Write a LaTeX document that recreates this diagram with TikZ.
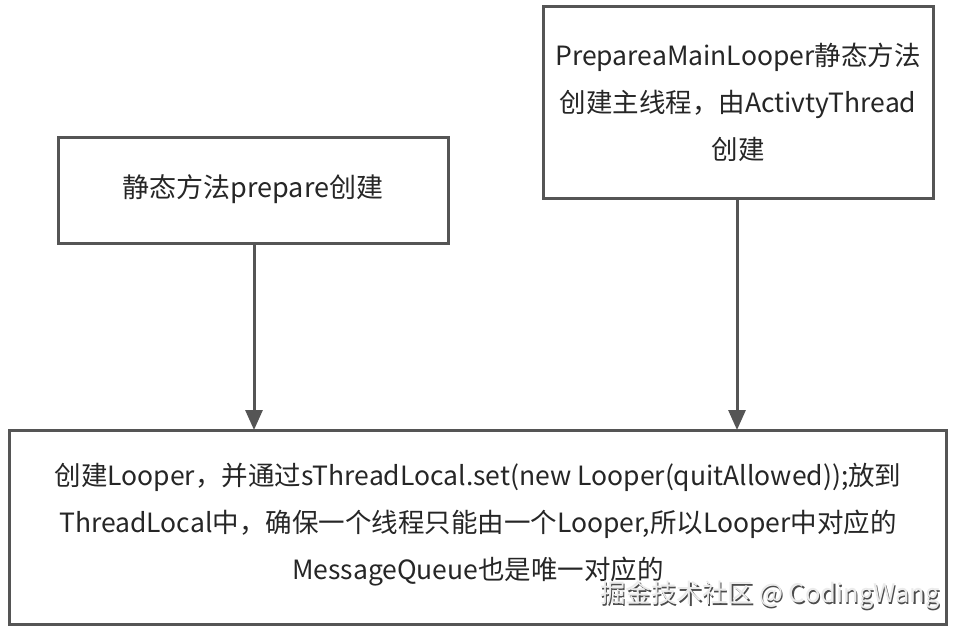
\documentclass[tikz,border=0pt]{standalone}
\usepackage{fontspec}
\setmainfont{Noto Sans CJK SC}
\usetikzlibrary{arrows.meta}
\definecolor{edge}{HTML}{555555}
\definecolor{txt}{HTML}{262626}
\tikzset{
  box/.style={draw=edge, line width=3pt, fill=white, inner sep=0pt},
  lbl/.style={text=txt, align=center, font=\fontsize{26.5}{47}\selectfont},
  conn/.style={draw=edge, line width=3pt, -{Triangle[length=20pt,width=17pt]}},
}
\begin{document}
\begin{tikzpicture}[x=1pt,y=-1pt]
\useasboundingbox (0,0) rectangle (958,630);
\fill[white] (0,0) rectangle (958,630);
\draw[box] (58,137) rectangle (448,243);
\node[lbl, font=\fontsize{27}{47}\selectfont] (lt) at (253,189) {静态方法prepare创建};
\coordinate (lb) at (254,243);
\draw[box] (543,6) rectangle (933,198);
\node[lbl] (rt) at (738,102) {PrepareaMainLooper静态方法\\创建主线程，由ActivtyThread\\创建};
\coordinate (rb) at (737,198);
\draw[box] (9,430) rectangle (946,624);
\node[lbl] (bt) at (478,525) {创建Looper，并通过sThreadLocal.set(new Looper(quitAllowed));放到\\ThreadLocal中，确保一个线程只能由一个Looper,所以Looper中对应的\\MessageQueue也是唯一对应的};
\coordinate (lt2) at (254,430);
\coordinate (rt2) at (737,430);
\draw[conn] (lb) -- (lt2);
\draw[conn] (rb) -- (rt2);
\node[text=black!70, font=\fontsize{25.5}{25.5}\selectfont] (wm0) at (771.5,596.5) {掘金技术社区 @ CodingWang};
\node[text=white!92!black, font=\fontsize{25.5}{25.5}\selectfont] (wm) at (770,595) {掘金技术社区 @ CodingWang};
\end{tikzpicture}
\end{document}
